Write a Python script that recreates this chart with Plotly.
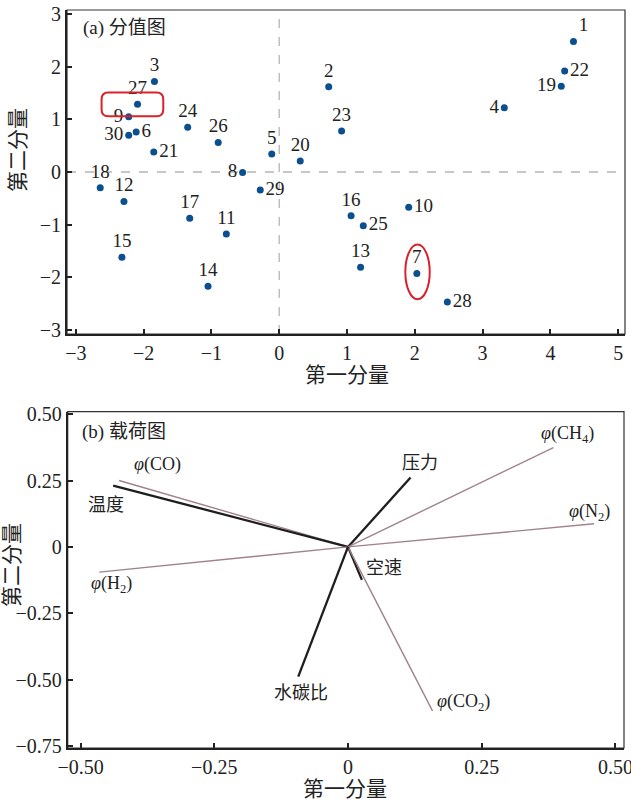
import plotly.graph_objects as go

# ---- score plot data (first / second principal component) ----
sample_ids = list(range(1, 31))
pc1_scores = [4.34, 0.73, -1.84, 3.32, -0.11, -2.11, 2.03, -0.54, -2.22, 1.91,
              -0.78, -2.29, 1.20, -1.05, -2.32, 1.06, -1.32, -2.64, 4.16, 0.31,
              -1.85, 4.21, 0.92, -1.35, 1.24, -0.90, -2.09, 2.48, -0.28, -2.22]
pc2_scores = [2.48, 1.62, 1.72, 1.22, 0.34, 0.76, -1.93, -0.01, 1.05, -0.67,
              -1.18, -0.56, -1.81, -2.17, -1.62, -0.83, -0.88, -0.30, 1.63, 0.21,
              0.38, 1.92, 0.78, 0.85, -1.02, 0.56, 1.29, -2.47, -0.34, 0.70]
label_pos = ["top right", "top center", "top center", "middle left", "top center",
             "middle right", "top center", "middle left", "middle left", "middle right",
             "top center", "top center", "top center", "top center", "top center",
             "top center", "top center", "top center", "middle left", "top center",
             "middle right", "middle right", "top center", "top center", "middle right",
             "top center", "top center", "middle right", "middle right", "middle left"]

# ---- loading plot data ----
variables = ["<i>φ</i>(CO)", "温度", "<i>φ</i>(H<sub>2</sub>)", "压力",
             "<i>φ</i>(CH<sub>4</sub>)", "<i>φ</i>(N<sub>2</sub>)", "空速",
             "<i>φ</i>(CO<sub>2</sub>)", "水碳比"]
load_pc1 = [-0.428, -0.439, -0.465, 0.117, 0.384, 0.460, 0.026, 0.158, -0.093]
load_pc2 = [0.250, 0.231, -0.095, 0.261, 0.374, 0.087, -0.124, -0.617, -0.488]
is_gas = [True, False, True, False, True, True, False, True, False]
# label anchor (x, y, xanchor) for each loading vector
label_xy = [(-0.404, 0.309, "left"), (-0.452, 0.158, "center"), (-0.484, -0.143, "left"),
            (0.134, 0.316, "center"), (0.357, 0.422, "left"), (0.410, 0.128, "left"),
            (0.068, -0.079, "center"), (0.163, -0.587, "left"), (-0.088, -0.550, "center")]

W, H = 631, 802
SERIF = "Liberation Serif, Noto Sans CJK SC, serif"
INK = "#222222"
MARKER = "#0b4f8f"
GAS_LINE = "#a08389"
OP_LINE = "#1e1e1e"

fig = go.Figure()

# score scatter
fig.add_trace(go.Scatter(
    x=pc1_scores, y=pc2_scores, mode="markers+text",
    text=[str(i) for i in sample_ids], textposition=label_pos,
    textfont=dict(family=SERIF, size=19, color=INK),
    marker=dict(color=MARKER, size=7),
    xaxis="x", yaxis="y", showlegend=False, cliponaxis=False))

# loading vectors from the origin
for name, lx, ly, gas in zip(variables, load_pc1, load_pc2, is_gas):
    fig.add_trace(go.Scatter(
        x=[0, lx], y=[0, ly], mode="lines",
        line=dict(color=GAS_LINE if gas else OP_LINE, width=1.4 if gas else 2.3),
        xaxis="x2", yaxis="y2", showlegend=False, hoverinfo="skip"))

def px_dom(a, b, total):
    return [a / total, b / total]

axis_common = dict(
    showline=True, linecolor=INK, linewidth=2, mirror=False,
    ticks="inside", ticklen=5, tickwidth=1.5, tickcolor=INK,
    showgrid=False, zeroline=False,
    tickfont=dict(family=SERIF, size=20, color=INK),
    ticklabeloverflow="allow",
    automargin=False,
)

fig.update_layout(
    width=W, height=H,
    margin=dict(l=0, r=0, t=0, b=0),
    paper_bgcolor="white", plot_bgcolor="white",
    xaxis=dict(domain=px_dom(67, 625, W), range=[-3.13, 5.10],
               tickvals=[-3, -2, -1, 0, 1, 2, 3, 4, 5], anchor="y", **axis_common),
    yaxis=dict(domain=[1 - 334 / H, 1 - 10 / H], range=[-3.08, 3.08],
               tickvals=[-3, -2, -1, 0, 1, 2, 3], anchor="x", **axis_common),
    xaxis2=dict(domain=px_dom(67.7, 624, W), range=[-0.524, 0.516],
                tickvals=[-0.5, -0.25, 0, 0.25, 0.5],
                ticktext=["−0.50", "−0.25", "0", "0.25", "0.50"], anchor="y2", **axis_common),
    yaxis2=dict(domain=[1 - 748 / H, 1 - 411.7 / H], range=[-0.757, 0.509],
                tickvals=[-0.75, -0.5, -0.25, 0, 0.25, 0.5],
                ticktext=["−0.75", "−0.50", "−0.25", "0", "0.25", "0.50"], anchor="x2", **axis_common),
)

shapes = [
    # thin top/right frame of both panels
    dict(type="rect", xref="x domain", yref="y domain", x0=0, x1=1, y0=0, y1=1,
         line=dict(color="#333333", width=1.2), layer="below"),
    dict(type="rect", xref="x2 domain", yref="y2 domain", x0=0, x1=1, y0=0, y1=1,
         line=dict(color="#333333", width=1.2), layer="below"),
    # dashed reference lines through the origin of the score plot
    dict(type="line", xref="x", yref="y domain", x0=0, x1=0, y0=0, y1=1,
         line=dict(color="#b5b5b5", width=1.3, dash="dash"), layer="below"),
    dict(type="line", xref="x domain", yref="y", x0=0, x1=1, y0=0, y1=0,
         line=dict(color="#b5b5b5", width=1.3, dash="dash"), layer="below"),
]

# red highlight: rounded box around sample 27, ellipse around sample 7
bx0, bx1, by0, by1 = -2.62, -1.71, 1.06, 1.51
rx, ry = 0.10, 0.13
box_path = (f"M {bx0 + rx},{by1} L {bx1 - rx},{by1} Q {bx1},{by1} {bx1},{by1 - ry} "
            f"L {bx1},{by0 + ry} Q {bx1},{by0} {bx1 - rx},{by0} "
            f"L {bx0 + rx},{by0} Q {bx0},{by0} {bx0},{by0 + ry} "
            f"L {bx0},{by1 - ry} Q {bx0},{by1} {bx0 + rx},{by1} Z")
shapes.append(dict(type="path", xref="x", yref="y", path=box_path,
                   line=dict(color="#d8232a", width=2)))
shapes.append(dict(type="circle", xref="x", yref="y", x0=1.86, x1=2.22, y0=-2.42, y1=-1.38,
                   line=dict(color="#d8232a", width=2)))
fig.update_layout(shapes=shapes)

title_font = dict(family=SERIF, size=21, color=INK)
annotations = [
    dict(text="(a) 分值图", x=-2.93, y=2.73, xref="x", yref="y", xanchor="left",
         yanchor="middle", showarrow=False, font=dict(family=SERIF, size=19, color=INK)),
    dict(text="(b) 载荷图", x=-0.501, y=0.433, xref="x2", yref="y2", xanchor="left",
         yanchor="middle", showarrow=False, font=dict(family=SERIF, size=19, color=INK)),
    dict(text="第一分量", x=347 / W, y=1 - 375 / H, xref="paper", yref="paper",
         xanchor="center", yanchor="middle", showarrow=False, font=title_font),
    dict(text="第二分量", x=18 / W, y=1 - 150 / H, xref="paper", yref="paper", textangle=-90,
         xanchor="center", yanchor="middle", showarrow=False, font=title_font),
    dict(text="第一分量", x=345 / W, y=1 - 789 / H, xref="paper", yref="paper",
         xanchor="center", yanchor="middle", showarrow=False, font=title_font),
    dict(text="第二分量", x=12 / W, y=1 - 565 / H, xref="paper", yref="paper", textangle=-90,
         xanchor="center", yanchor="middle", showarrow=False, font=title_font),
]
for name, (tx, ty, anc) in zip(variables, label_xy):
    annotations.append(dict(text=name, x=tx, y=ty, xref="x2", yref="y2", xanchor=anc,
                            yanchor="middle", showarrow=False,
                            font=dict(family=SERIF, size=18, color=INK)))
fig.update_layout(annotations=annotations)

fig.write_html("out.html")
